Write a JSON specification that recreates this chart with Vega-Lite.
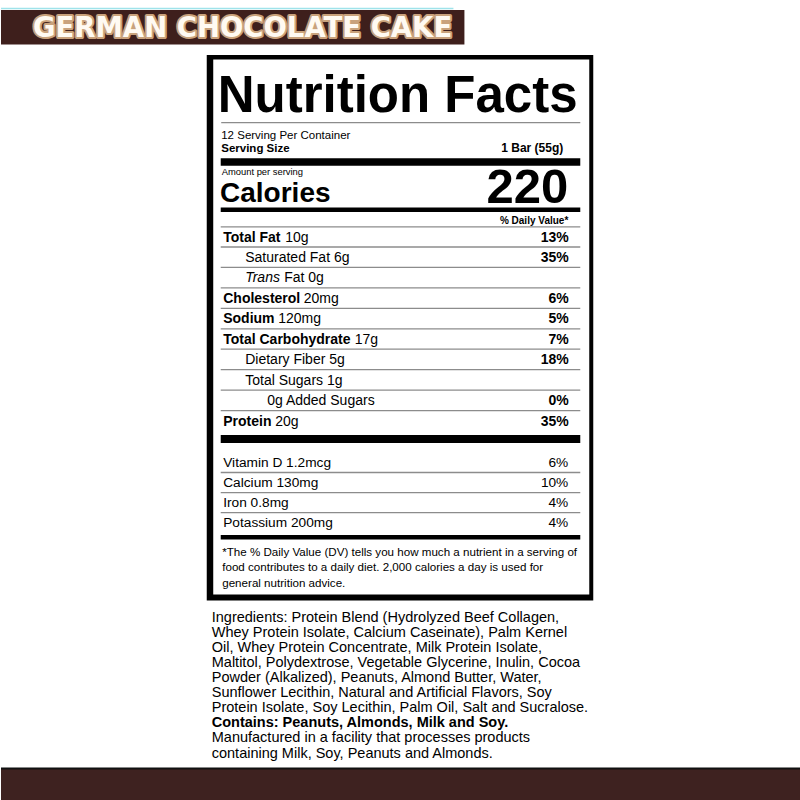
{
  "$schema": "https://vega.github.io/schema/vega-lite/v6.json",
  "description": "German Chocolate Cake bar - nutrition facts label",
  "width": 800,
  "height": 800,
  "padding": 0,
  "autosize": {"type": "fit", "contains": "padding"},
  "background": "white",
  "config": {
    "view": {"stroke": null},
    "axis": {"disable": true},
    "text": {"font": "Liberation Sans", "color": "#000"}
  },
  "datasets": {
    "panel": [
      {"key": "flavor", "text": "GERMAN CHOCOLATE CAKE"},
      {"key": "title", "text": "Nutrition Facts"},
      {"key": "servings", "text": "12 Serving Per Container"},
      {"key": "servingSize", "text": "Serving Size"},
      {"key": "servingSizeValue", "text": "1 Bar (55g)"},
      {"key": "amountPer", "text": "Amount per serving"},
      {"key": "caloriesLabel", "text": "Calories"},
      {"key": "calories", "text": "220"},
      {"key": "dvHeader", "text": "% Daily Value*"}
    ],
    "nutrients": [
      {"line": 1, "level": 0, "nutrient": "Total Fat", "amount": "10g", "dv": "13%"},
      {"line": 2, "level": 1, "nutrient": "Saturated Fat", "amount": "6g", "dv": "35%"},
      {"line": 3, "level": 1, "nutrient": "Trans Fat", "amount": "0g", "dv": ""},
      {"line": 4, "level": 0, "nutrient": "Cholesterol", "amount": "20mg", "dv": "6%"},
      {"line": 5, "level": 0, "nutrient": "Sodium", "amount": "120mg", "dv": "5%"},
      {"line": 6, "level": 0, "nutrient": "Total Carbohydrate", "amount": "17g", "dv": "7%"},
      {"line": 7, "level": 1, "nutrient": "Dietary Fiber", "amount": "5g", "dv": "18%"},
      {"line": 8, "level": 1, "nutrient": "Total Sugars", "amount": "1g", "dv": ""},
      {"line": 9, "level": 2, "nutrient": "Added Sugars", "amount": "0g", "dv": "0%"},
      {"line": 10, "level": 0, "nutrient": "Protein", "amount": "20g", "dv": "35%"}
    ],
    "vitamins": [
      {"line": 1, "nutrient": "Vitamin D", "amount": "1.2mcg", "dv": "6%"},
      {"line": 2, "nutrient": "Calcium", "amount": "130mg", "dv": "10%"},
      {"line": 3, "nutrient": "Iron", "amount": "0.8mg", "dv": "4%"},
      {"line": 4, "nutrient": "Potassium", "amount": "200mg", "dv": "4%"}
    ],
    "footnote": [
      {"line": 1, "text": "*The % Daily Value (DV) tells you how much a nutrient in a serving of"},
      {"line": 2, "text": "food contributes to a daily diet. 2,000 calories a day is used for"},
      {"line": 3, "text": "general nutrition advice."}
    ],
    "ingredients": [
      {"line": 1, "part": "ingredients", "text": "Ingredients: Protein Blend (Hydrolyzed Beef Collagen,"},
      {"line": 2, "part": "ingredients", "text": "Whey Protein Isolate, Calcium Caseinate), Palm Kernel"},
      {"line": 3, "part": "ingredients", "text": "Oil, Whey Protein Concentrate, Milk Protein Isolate,"},
      {"line": 4, "part": "ingredients", "text": "Maltitol, Polydextrose, Vegetable Glycerine, Inulin, Cocoa"},
      {"line": 5, "part": "ingredients", "text": "Powder (Alkalized), Peanuts, Almond Butter, Water,"},
      {"line": 6, "part": "ingredients", "text": "Sunflower Lecithin, Natural and Artificial Flavors, Soy"},
      {"line": 7, "part": "ingredients", "text": "Protein Isolate, Soy Lecithin, Palm Oil, Salt and Sucralose."},
      {"line": 8, "part": "allergens", "text": "Contains: Peanuts, Almonds, Milk and Soy."},
      {"line": 9, "part": "facility", "text": "Manufactured in a facility that processes products"},
      {"line": 10, "part": "facility", "text": "containing Milk, Soy, Peanuts and Almonds."}
    ]
  },
  "resolve": {"scale": {"xOffset": "independent", "yOffset": "independent"}},
  "layer": [
    {
      "data": {"values": [{"part": "frame"}]},
      "layer": [
        {
          "mark": {"type": "rule", "color": "#9fe3ea", "strokeWidth": 1.5},
          "encoding": {
            "x": {"datum": 0, "scale": {"domain": [0, 800], "nice": false, "zero": false}},
            "x2": {"datum": 453},
            "y": {"datum": 8.5, "scale": {"domain": [0, 800], "nice": false, "zero": false, "reverse": true}}
          }
        },
        {
          "mark": {"type": "rect", "color": "#3e1f1c", "strokeWidth": 0},
          "encoding": {"x": {"datum": 0}, "x2": {"datum": 464}, "y": {"datum": 10}, "y2": {"datum": 44.5}}
        },
        {
          "mark": {"type": "rect", "color": "#000", "strokeWidth": 0},
          "encoding": {"x": {"datum": 206}, "x2": {"datum": 593}, "y": {"datum": 55}, "y2": {"datum": 600.5}}
        },
        {
          "mark": {"type": "rect", "color": "#fff", "strokeWidth": 0},
          "encoding": {"x": {"datum": 212.5}, "x2": {"datum": 589}, "y": {"datum": 59.5}, "y2": {"datum": 594.5}}
        },
        {
          "mark": {"type": "rule", "color": "#8c8c8c", "strokeWidth": 1.3},
          "encoding": {"x": {"datum": 220.5}, "x2": {"datum": 580}, "y": {"datum": 122.7}}
        },
        {
          "mark": {"type": "rect", "color": "#000", "strokeWidth": 0},
          "encoding": {"x": {"datum": 220}, "x2": {"datum": 580}, "y": {"datum": 158.3}, "y2": {"datum": 165.7}}
        },
        {
          "mark": {"type": "rect", "color": "#000", "strokeWidth": 0},
          "encoding": {"x": {"datum": 220}, "x2": {"datum": 580}, "y": {"datum": 207.5}, "y2": {"datum": 212}}
        },
        {
          "mark": {"type": "rule", "color": "#8c8c8c", "strokeWidth": 1.3},
          "encoding": {"x": {"datum": 220}, "x2": {"datum": 580}, "y": {"datum": 226.8}}
        },
        {
          "mark": {"type": "rect", "color": "#000", "strokeWidth": 0},
          "encoding": {"x": {"datum": 220}, "x2": {"datum": 580}, "y": {"datum": 435}, "y2": {"datum": 443}}
        },
        {
          "mark": {"type": "rect", "color": "#000", "strokeWidth": 0},
          "encoding": {"x": {"datum": 220}, "x2": {"datum": 580}, "y": {"datum": 535}, "y2": {"datum": 539.5}}
        },
        {
          "mark": {"type": "rect", "color": "#3e2220", "strokeWidth": 0},
          "encoding": {"x": {"datum": 0}, "x2": {"datum": 800}, "y": {"datum": 769}, "y2": {"datum": 800}}
        },
        {
          "mark": {"type": "rect", "color": "#111", "strokeWidth": 0},
          "encoding": {"x": {"datum": 0}, "x2": {"datum": 800}, "y": {"datum": 767.5}, "y2": {"datum": 769.5}}
        }
      ]
    },
    {
      "data": {"name": "panel"},
      "layer": [
        {
          "transform": [{"filter": "datum.key == 'flavor'"}],
          "mark": {"type": "text", "font": "DejaVu Sans", "fontWeight": "bold", "fontSize": 27.5, "align": "left", "baseline": "alphabetic", "color": "#c9a27c", "stroke": "#c9a27c", "strokeWidth": 4, "strokeJoin": "round"},
          "encoding": {"x": {"datum": 32}, "y": {"datum": 36.5}, "text": {"field": "text"}}
        },
        {
          "transform": [{"filter": "datum.key == 'flavor'"}],
          "mark": {"type": "text", "font": "DejaVu Sans", "fontWeight": "bold", "fontSize": 27.5, "align": "left", "baseline": "alphabetic", "color": "#fffaf2"},
          "encoding": {"x": {"datum": 32}, "y": {"datum": 36.5}, "text": {"field": "text"}}
        },
        {
          "transform": [{"filter": "datum.key == 'title'"}],
          "mark": {"type": "text", "fontWeight": "bold", "fontSize": 51, "align": "left", "baseline": "alphabetic"},
          "encoding": {"x": {"datum": 217}, "y": {"datum": 111.7}, "text": {"field": "text"}}
        },
        {
          "transform": [{"filter": "datum.key == 'servings'"}],
          "mark": {"type": "text", "fontSize": 11.5, "align": "left", "baseline": "alphabetic"},
          "encoding": {"x": {"datum": 220.5}, "y": {"datum": 139.3}, "text": {"field": "text"}}
        },
        {
          "transform": [{"filter": "datum.key == 'servingSize'"}],
          "mark": {"type": "text", "fontWeight": "bold", "fontSize": 11.5, "align": "left", "baseline": "alphabetic"},
          "encoding": {"x": {"datum": 220.5}, "y": {"datum": 151.8}, "text": {"field": "text"}}
        },
        {
          "transform": [{"filter": "datum.key == 'servingSizeValue'"}],
          "mark": {"type": "text", "fontWeight": "bold", "fontSize": 12, "align": "right", "baseline": "alphabetic"},
          "encoding": {"x": {"datum": 563}, "y": {"datum": 152.3}, "text": {"field": "text"}}
        },
        {
          "transform": [{"filter": "datum.key == 'amountPer'"}],
          "mark": {"type": "text", "fontSize": 9.4, "align": "left", "baseline": "alphabetic"},
          "encoding": {"x": {"datum": 221}, "y": {"datum": 175.3}, "text": {"field": "text"}}
        },
        {
          "transform": [{"filter": "datum.key == 'caloriesLabel'"}],
          "mark": {"type": "text", "fontWeight": "bold", "fontSize": 28, "align": "left", "baseline": "alphabetic"},
          "encoding": {"x": {"datum": 219.3}, "y": {"datum": 201.7}, "text": {"field": "text"}}
        },
        {
          "transform": [{"filter": "datum.key == 'calories'"}],
          "mark": {"type": "text", "fontWeight": "bold", "fontSize": 49, "align": "right", "baseline": "alphabetic"},
          "encoding": {"x": {"datum": 568}, "y": {"datum": 202.5}, "text": {"field": "text"}}
        },
        {
          "transform": [{"filter": "datum.key == 'dvHeader'"}],
          "mark": {"type": "text", "fontWeight": "bold", "fontSize": 10, "align": "right", "baseline": "alphabetic"},
          "encoding": {"x": {"datum": 568}, "y": {"datum": 224.3}, "text": {"field": "text"}}
        }
      ]
    },
    {
      "data": {"name": "nutrients"},
      "transform": [
        {"calculate": "datum.level == 2 ? datum.amount + ' ' + datum.nutrient : datum.nutrient + ' ' + datum.amount", "as": "label"},
        {"calculate": "split(datum.nutrient, ' ')[0]", "as": "firstWord"},
        {"calculate": "split(datum.nutrient, ' ')[1] + ' ' + datum.amount", "as": "rest"}
      ],
      "encoding": {
        "yOffset": {"field": "line", "type": "quantitative", "scale": {"domain": [1, 10], "range": [0, 184]}}
      },
      "layer": [
        {
          "transform": [{"filter": "datum.line < 10"}],
          "mark": {"type": "rule", "color": "#8c8c8c", "strokeWidth": 1.3},
          "encoding": {"x": {"datum": 220}, "x2": {"datum": 580}, "y": {"datum": 247}}
        },
        {
          "transform": [{"filter": "datum.level == 0"}],
          "mark": {"type": "text", "fontWeight": "bold", "fontSize": 14, "align": "left", "baseline": "middle"},
          "encoding": {"x": {"datum": 222.5}, "y": {"datum": 237.5}, "text": {"field": "nutrient"}}
        },
        {
          "transform": [{"filter": "datum.level == 0"}],
          "mark": {
            "type": "text", "fontSize": 14, "align": "left", "baseline": "middle",
            "dx": {"expr": "datum.nutrient == 'Total Fat' ? 62 : datum.nutrient == 'Cholesterol' ? 80.5 : datum.nutrient == 'Sodium' ? 55 : datum.nutrient == 'Total Carbohydrate' ? 131.5 : 52"}
          },
          "encoding": {"x": {"datum": 222.5}, "y": {"datum": 237.5}, "text": {"field": "amount"}}
        },
        {
          "transform": [{"filter": "datum.level > 0 && datum.nutrient != 'Trans Fat'"}],
          "mark": {"type": "text", "fontSize": 14, "align": "left", "baseline": "middle"},
          "encoding": {
            "x": {"datum": 222.5},
            "xOffset": {"field": "level", "type": "quantitative", "scale": {"domain": [0, 2], "range": [0, 44]}},
            "y": {"datum": 237.5},
            "text": {"field": "label"}
          }
        },
        {
          "transform": [{"filter": "datum.nutrient == 'Trans Fat'"}],
          "mark": {"type": "text", "fontSize": 14, "fontStyle": "italic", "align": "left", "baseline": "middle"},
          "encoding": {"x": {"datum": 244.5}, "y": {"datum": 237.5}, "text": {"field": "firstWord"}}
        },
        {
          "transform": [{"filter": "datum.nutrient == 'Trans Fat'"}],
          "mark": {"type": "text", "fontSize": 14, "align": "left", "baseline": "middle", "dx": 39},
          "encoding": {"x": {"datum": 244.5}, "y": {"datum": 237.5}, "text": {"field": "rest"}}
        },
        {
          "mark": {"type": "text", "fontWeight": "bold", "fontSize": 14, "align": "right", "baseline": "middle"},
          "encoding": {"x": {"datum": 568.5}, "y": {"datum": 237.5}, "text": {"field": "dv"}}
        }
      ]
    },
    {
      "data": {"name": "vitamins"},
      "transform": [{"calculate": "datum.nutrient + ' ' + datum.amount", "as": "label"}],
      "encoding": {
        "yOffset": {"field": "line", "type": "quantitative", "scale": {"domain": [1, 4], "range": [0, 60.3]}}
      },
      "layer": [
        {
          "transform": [{"filter": "datum.line < 4"}],
          "mark": {"type": "rule", "color": "#8c8c8c", "strokeWidth": 1.3},
          "encoding": {"x": {"datum": 220}, "x2": {"datum": 580}, "y": {"datum": 472.5}}
        },
        {
          "mark": {"type": "text", "fontSize": 13.7, "align": "left", "baseline": "middle"},
          "encoding": {"x": {"datum": 222.5}, "y": {"datum": 463}, "text": {"field": "label"}}
        },
        {
          "mark": {"type": "text", "fontSize": 13.7, "align": "right", "baseline": "middle"},
          "encoding": {"x": {"datum": 568}, "y": {"datum": 463}, "text": {"field": "dv"}}
        }
      ]
    },
    {
      "data": {"name": "footnote"},
      "mark": {"type": "text", "fontSize": 11.6, "align": "left", "baseline": "middle"},
      "encoding": {
        "x": {"datum": 221.5},
        "y": {"datum": 552.9},
        "yOffset": {"field": "line", "type": "quantitative", "scale": {"domain": [1, 3], "range": [0, 30.8]}},
        "text": {"field": "text"}
      }
    },
    {
      "data": {"name": "ingredients"},
      "encoding": {
        "yOffset": {"field": "line", "type": "quantitative", "scale": {"domain": [1, 10], "range": [0, 136]}}
      },
      "layer": [
        {
          "transform": [{"filter": "datum.part != 'allergens'"}],
          "mark": {"type": "text", "fontSize": 14.5, "align": "left", "baseline": "middle"},
          "encoding": {"x": {"datum": 211}, "y": {"datum": 617.5}, "text": {"field": "text"}}
        },
        {
          "transform": [{"filter": "datum.part == 'allergens'"}],
          "mark": {"type": "text", "fontWeight": "bold", "fontSize": 14.5, "align": "left", "baseline": "middle"},
          "encoding": {"x": {"datum": 211}, "y": {"datum": 617.5}, "text": {"field": "text"}}
        }
      ]
    }
  ]
}
